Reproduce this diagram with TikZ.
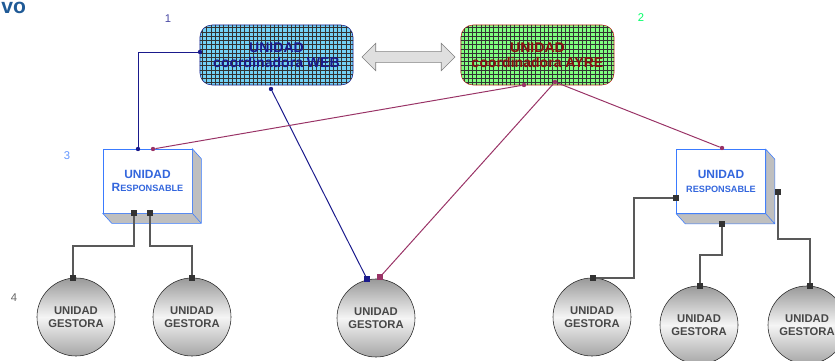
\documentclass[tikz,border=0pt]{standalone}
\usepackage{fontspec}
\setmainfont{Liberation Sans}
\usetikzlibrary{patterns, shapes.arrows}

\definecolor{webnavy}{HTML}{1A1A8C}
\definecolor{ayrered}{HTML}{8B1010}
\definecolor{ayreborder}{HTML}{D02020}
\definecolor{linkpurple}{HTML}{993366}
\definecolor{respblue}{HTML}{3A7BFF}
\definecolor{resptext}{HTML}{3366DD}
\definecolor{titleblue}{HTML}{1F5A96}

\tikzset{
  coord/.style={rectangle, rounded corners=0.3cm, minimum width=3.825cm, minimum height=1.5cm, align=center, inner sep=0, font=\bfseries\fontsize{10}{10.5}\selectfont},
  resp/.style={rectangle, draw=respblue, fill=white, minimum width=2.225cm, minimum height=1.6cm, align=center, inner sep=0, text=resptext, font=\bfseries\fontsize{8.5}{9.5}\selectfont},
  gest/.style={circle, draw=black!85, top color=gray!80, bottom color=gray!70, middle color=gray!8, minimum size=1.95cm, inner sep=0, align=center, text=black!72, font=\bfseries\fontsize{8}{9.3}\selectfont},
  port/.style={rectangle, fill=black!80, inner sep=0, minimum size=0.13cm},
  dot/.style={circle, inner sep=0, minimum size=0.11cm},
  num/.style={font=\fontsize{8}{9}\selectfont, inner sep=0},
  wire/.style={draw=black!65, line width=0.8pt}
}

\begin{document}
\begin{tikzpicture}[x=0.025cm, y=-0.025cm]
    \useasboundingbox (0,0) rectangle (835,361);

    % Nodes
    \node[anchor=base west, inner sep=0, text=titleblue, font=\bfseries\fontsize{15}{17}\selectfont] (title) at (1,14) {vo};
    \node[num, text=webnavy!80] (n1) at (168,19) {1};
    \node[num, text=green!60!cyan] (n2) at (641,18) {2};
    \node[num, text=respblue!80] (n3) at (67,156) {3};
    \node[num, text=black!60] (n4) at (14,298) {4};

    \node[coord, draw=webnavy, fill=cyan!55, text=webnavy,
          postaction={pattern=grid, pattern color=black!80}] (web) at (276.5,55) {UNIDAD\\coordinadora WEB};
    \node[coord, draw=ayreborder, fill=green!50, text=ayrered,
          postaction={pattern=grid, pattern color=black!80}] (ayre) at (537.5,55) {UNIDAD\\coordinadora AYRE};
    \node[double arrow, draw=gray, fill=gray!25, minimum height=2.325cm, inner xsep=0, inner ysep=0.125cm,
          double arrow head extend=0.2125cm] (link) at (408.5,57) {};

    \node[resp] (respL) at (147.5,181) {UNIDAD\\R{\fontsize{6.5}{8}\selectfont ESPONSABLE}};
    \node[resp] (respR) at (721,181.5) {UNIDAD\\{\fontsize{6.5}{8}\selectfont RESPONSABLE}};
    \foreach \r in {respL, respR}
      \filldraw[draw=respblue, fill=gray!50] (\r.north east) -- ([shift={(9,10)}]\r.north east)
        -- ([shift={(9,10)}]\r.south east) -- ([shift={(9,10)}]\r.south west) -- (\r.south west)
        -- (\r.south east) -- cycle (\r.south east) -- ([shift={(9,10)}]\r.south east);

    \node[gest] (g1) at (76,317) {UNIDAD\\GESTORA};
    \node[gest] (g2) at (192,317) {UNIDAD\\GESTORA};
    \node[gest] (g3) at (376,318) {UNIDAD\\GESTORA};
    \node[gest] (g4) at (592,317) {UNIDAD\\GESTORA};
    \node[gest] (g5) at (699,325) {UNIDAD\\GESTORA};
    \node[gest] (g6) at (807,325) {UNIDAD\\GESTORA};

    % Connection points
    \node[dot, fill=webnavy] (dWeb) at (200,52) {};
    \node[dot, fill=webnavy] (dWebB) at (271,89) {};
    \node[dot, fill=webnavy] (dRespL) at (138,149) {};
    \node[dot, fill=linkpurple] (dAyre1) at (524,85) {};
    \node[dot, fill=linkpurple] (dAyre2) at (555,82) {};
    \node[dot, fill=linkpurple] (dRespLp) at (153,149) {};
    \node[dot, fill=linkpurple] (dRespR) at (722,148) {};
    \node[port, fill=webnavy] (qNavy) at (367,279) {};
    \node[port, fill=linkpurple] (qPurple) at (380,277) {};

    \node[port] (pL1) at (134,213) {};
    \node[port] (pL2) at (150,213) {};
    \node[port] (pR1) at (676,198) {};
    \node[port] (pR2) at (722,224) {};
    \node[port] (pR3) at (778,192) {};
    \node[port] (q1) at (73,278) {};
    \node[port] (q2) at (192,278) {};
    \node[port] (q4) at (593,278) {};
    \node[port] (q5) at (700,286) {};
    \node[port] (q6) at (810,286) {};

    % Paths
    \draw[webnavy, line width=0.7pt] (dWeb) -| (dRespL);
    \draw[webnavy, line width=0.7pt] (dWebB) -- (qNavy);
    \draw[linkpurple, line width=0.7pt] (dAyre1) -- (dRespLp);
    \draw[linkpurple, line width=0.7pt] (dAyre2) -- (qPurple);
    \draw[linkpurple, line width=0.7pt] (dAyre2) -- (dRespR);

    \draw[wire] (pL1) -- ++(0,33) -| (q1);
    \draw[wire] (pL2) -- ++(0,33) -| (q2);
    \draw[wire] (pR1) -- ++(-42,0) |- (q4);
    \draw[wire] (pR2) -- ++(0,31) -| (q5);
    \draw[wire] (pR3) -- ++(0,47) -| (q6);
\end{tikzpicture}
\end{document}
